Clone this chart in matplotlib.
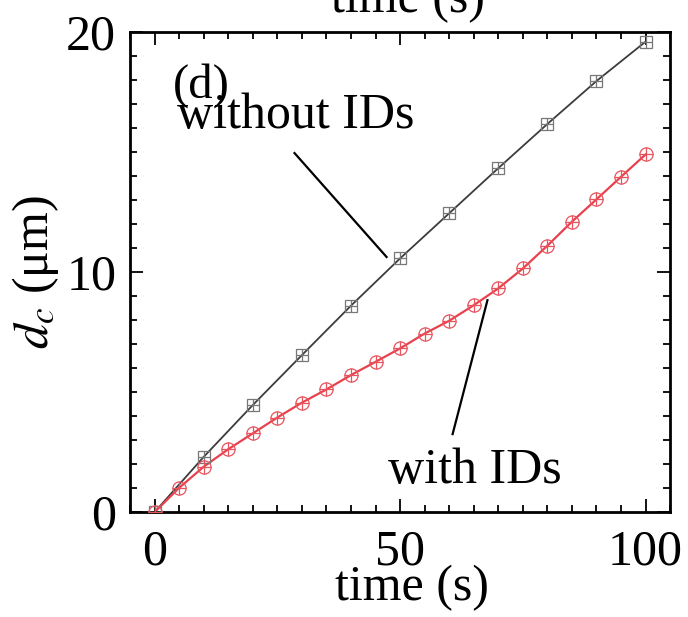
import numpy as np
import matplotlib
matplotlib.use("Agg")
import matplotlib.pyplot as plt
from matplotlib.ticker import MultipleLocator

plt.rcParams['font.family'] = ['Liberation Serif', 'DejaVu Serif']
plt.rcParams['mathtext.fontset'] = 'stix'

# ─── data ─────────────────────────────────────────────────────
t_without = [0, 10, 20, 30, 40, 50, 60, 70, 80, 90, 100]
d_without = [0.0, 2.3, 4.46, 6.54, 8.6, 10.57, 12.45, 14.33, 16.17, 17.96, 19.6]

t_with = [0, 5, 10, 15, 20, 25, 30, 35, 40, 45, 50,
          55, 60, 65, 70, 75, 80, 85, 90, 95, 100]
d_with = [0.0, 1.01, 1.89, 2.62, 3.28, 3.94, 4.56, 5.11, 5.71, 6.26, 6.82,
          7.44, 7.97, 8.62, 9.32, 10.15, 11.1, 12.1, 13.03, 13.97, 14.9]

# ─── figure ───────────────────────────────────────────────────
fig = plt.figure(figsize=(6.88, 6.17), dpi=100)
ax = fig.add_axes([0.189, 0.170, 0.785, 0.778])

gray, red = '#3c3c3c', '#e8414e'
mgray, mred = '#777777', '#e8535d'

ax.plot(t_without, d_without, color=gray, lw=1.3, zorder=2)
ax.plot(t_without, d_without, ls='none', marker='s', ms=8.5, mfc='none',
        mec=mgray, mew=0.9, zorder=3)
ax.plot(t_without, d_without, ls='none', marker='+', ms=8.5,
        mec=mgray, mew=0.9, zorder=3)

ax.plot(t_with, d_with, color=red, lw=1.6, zorder=2)
ax.plot(t_with, d_with, ls='none', marker='o', ms=9.5, mfc='none',
        mec=mred, mew=0.9, zorder=3)
ax.plot(t_with, d_with, ls='none', marker='+', ms=9.5,
        mec=mred, mew=0.9, zorder=3)

ax.set_xlim(-5, 105)
ax.set_ylim(0, 20)
ax.xaxis.set_major_locator(MultipleLocator(50))
ax.xaxis.set_minor_locator(MultipleLocator(5))
ax.yaxis.set_major_locator(MultipleLocator(10))
ax.yaxis.set_minor_locator(MultipleLocator(1))
ax.tick_params(which='both', direction='in', top=True, right=True,
               labelsize=36, width=1.3)
ax.tick_params(which='major', length=9.5)
ax.tick_params(which='minor', length=5)
ax.tick_params(axis='x', pad=12)
ax.tick_params(axis='y', pad=10)
for spine in ax.spines.values():
    spine.set_linewidth(2)

ax.set_xlabel('time (s)', fontsize=36, va='baseline')
ax.xaxis.set_label_coords(0.522, -0.183)
ax.set_ylabel(r'$d_c$ (μm)', fontsize=36, labelpad=4)

# curve labels with leader lines
ax.text(3.7, 17.25, '(d)', fontsize=35, ha='left', va='baseline')
ax.text(4.5, 16.0, 'without IDs', fontsize=36, ha='left', va='baseline')
ax.plot([28.5, 47.25], [14.96, 10.63], color='black', lw=1.6, zorder=4)
ax.text(47.5, 1.21, 'with IDs', fontsize=36, ha='left', va='baseline')
ax.plot([67.8, 60.7], [8.83, 3.25], color='black', lw=1.6, zorder=4)

# x label of the panel above, cut by the top edge
fig.text(0.593, 1 - 12 / 617, 'time (s)', fontsize=36,
         ha='center', va='baseline')

fig.savefig('out.png', dpi=100)
